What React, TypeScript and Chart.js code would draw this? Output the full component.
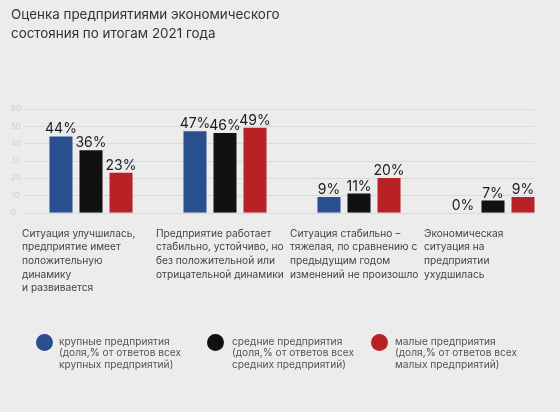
import React, { useEffect, useRef } from "react";
import { Chart, registerables } from "chart.js";

Chart.register(...registerables);

const titleLines = [
  "Оценка предприятиями экономического",
  "состояния по итогам 2021 года",
];

const categories = [
  ["Ситуация улучшилась,", "предприятие имеет", "положительную", "динамику", "и развивается"],
  ["Предприятие работает", "стабильно, устойчиво, но", "без положительной или", "отрицательной динамики"],
  ["Ситуация стабильно –", "тяжелая, по сравнению с", "предыдущим годом", "изменений не произошло"],
  ["Экономическая", "ситуация на", "предприятии", "ухудшилась"],
];

const largeValues = [44, 47, 9, 0];
const mediumValues = [36, 46, 11, 7];
const smallValues = [23, 49, 20, 9];

const seriesNames = ["крупные предприятия", "средние предприятия", "малые предприятия"];
const legendLines = [
  ["крупные предприятия", "(доля,% от ответов всех", "крупных предприятий)"],
  ["средние предприятия", "(доля,% от ответов всех", "средних предприятий)"],
  ["малые предприятия", "(доля,% от ответов всех", "малых предприятий)"],
];
const seriesColors = ["#2a4f8f", "#111111", "#b82226"];

const yMin = 0;
const yMax = 60;
const yStep = 10;

const FONT = "Inter, 'Noto Sans', sans-serif";

const valueLabelPlugin = {
  id: "valueLabels",
  afterDatasetsDraw(chart: any) {
    const ctx = chart.ctx;
    ctx.save();
    ctx.font = `400 14px ${FONT}`;
    ctx.fillStyle = "#1c1c1c";
    ctx.textAlign = "center";
    ctx.textBaseline = "alphabetic";
    chart.data.datasets.forEach((ds: any, di: number) => {
      const meta = chart.getDatasetMeta(di);
      meta.data.forEach((bar: any, i: number) => {
        ctx.fillText(`${ds.data[i]}%`, bar.x, bar.y - 3);
      });
    });
    ctx.restore();
  },
};

const gridPlugin = {
  id: "partialGrid",
  beforeDatasetsDraw(chart: any) {
    const ctx = chart.ctx;
    const y = chart.scales.y;
    const metas = chart.getSortedVisibleDatasetMetas();
    const lastMeta = metas[metas.length - 1];
    const lastBar = lastMeta.data[lastMeta.data.length - 1];
    const right = lastBar.x + lastBar.width / 2;
    const left = chart.chartArea.left;
    ctx.save();
    ctx.strokeStyle = "#dadada";
    ctx.lineWidth = 1;
    y.ticks.forEach((t: any) => {
      const py = Math.round(y.getPixelForValue(t.value)) + 0.5;
      ctx.beginPath();
      ctx.moveTo(left, py);
      ctx.lineTo(right, py);
      ctx.stroke();
    });
    ctx.restore();
  },
};

function ChartCanvas() {
  const ref = useRef<HTMLCanvasElement | null>(null);
  useEffect(() => {
    if (!ref.current) return;
    const values = [largeValues, mediumValues, smallValues];
    const chart = new Chart(ref.current, {
      type: "bar",
      data: {
        labels: categories,
        datasets: seriesNames.map((name, i) => ({
          label: name,
          data: values[i],
          backgroundColor: seriesColors[i],
          borderWidth: 0,
          barPercentage: 0.767,
          categoryPercentage: 0.672,
        })),
      },
      options: {
        animation: false,
        responsive: false,
        maintainAspectRatio: false,
        layout: { padding: { left: 11, right: 0, top: 0, bottom: 103 } },
        plugins: {
          legend: { display: false },
          tooltip: { enabled: false },
          title: {
            display: true,
            text: titleLines,
            align: "start",
            color: "#333333",
            font: { family: FONT, size: 13.4, weight: "400", lineHeight: 1.41 },
            padding: { top: 6, bottom: 65 },
          },
        },
        scales: {
          x: {
            grid: { display: false, drawTicks: false },
            border: { display: false },
            ticks: {
              autoSkip: false,
              maxRotation: 0,
              minRotation: 0,
              align: "start",
              labelOffset: -69,
              padding: 14,
              color: "#444444",
              font: { family: FONT, size: 10.2, lineHeight: 1.34 },
            },
            afterFit: (s: any) => {
              s.paddingLeft = 0;
              s.paddingRight = 0;
            },
          },
          y: {
            min: yMin,
            max: yMax,
            grid: { display: false, drawTicks: false },
            border: { display: false },
            ticks: {
              stepSize: yStep,
              crossAlign: "far",
              padding: 4,
              color: "#cfcfcf",
              font: { family: FONT, size: 8 },
            },
            afterFit: (s: any) => {
              s.width = 13;
            },
          },
        },
      },
      plugins: [gridPlugin, valueLabelPlugin],
    } as any);
    return () => chart.destroy();
  }, []);
  return <canvas ref={ref} width={560} height={412} style={{ position: "absolute", left: 0, top: 0, width: 560, height: 412 }} />;
}

const legendPos = [
  { circleX: 44, textX: 59 },
  { circleX: 215, textX: 232 },
  { circleX: 379, textX: 395 },
];

export default function App() {
  return (
    <div
      style={{
        position: "fixed",
        left: 0,
        top: 0,
        width: 560,
        height: 412,
        background: "#ececec",
        overflow: "hidden",
        fontFamily: FONT,
      }}
    >
      <ChartCanvas />
      {legendLines.map((lines, i) => (
        <React.Fragment key={i}>
          <div
            style={{
              position: "absolute",
              left: legendPos[i].circleX - 8.5,
              top: 334,
              width: 17,
              height: 17,
              borderRadius: "50%",
              background: seriesColors[i],
            }}
          />
          <div
            style={{
              position: "absolute",
              left: legendPos[i].textX,
              top: 336,
              fontSize: 10.2,
              lineHeight: "11.4px",
              color: "#555555",
              whiteSpace: "nowrap",
            }}
          >
            {lines.map((l, j) => (
              <div key={j}>{l}</div>
            ))}
          </div>
        </React.Fragment>
      ))}
    </div>
  );
}
